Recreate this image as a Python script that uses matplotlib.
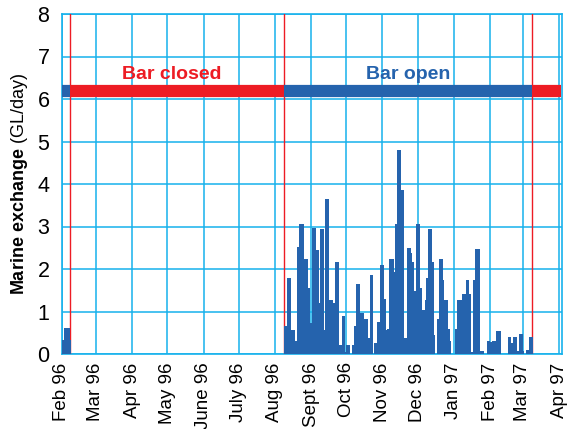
import datetime as dt
import matplotlib
matplotlib.use("Agg")
import matplotlib.pyplot as plt
import matplotlib.dates as mdates
from matplotlib import font_manager

# ---------------- data ----------------
feb_start = dt.date(1996, 2, 1)
feb_values = [0.33, 0.33, 0.61, 0.61, 0.61, 0.61, 0.61, 0.33]

open_start = dt.date(1996, 8, 9)
open_values = [
    0.66, 0.66, 1.79, 1.79, 1.79, 1.79, 0.57, 0.57, 0.57, 0.31,
    0.31, 2.52, 2.52, 3.05, 3.05, 3.05, 3.05, 2.24, 2.24, 2.24,
    1.55, 1.55, 0.72, 0.72, 2.96, 2.96, 2.96, 2.45, 2.45, 2.45,
    1.20, 2.95, 2.95, 2.95, 0.57, 3.64, 3.64, 3.64, 1.27, 1.27,
    1.27, 1.27, 1.20, 2.16, 2.16, 2.16, 2.16, 0.22, 0.22, 0.90,
    0.90, 0.90, 0.05, 0.22, 0.22, 0.22, 0.00, 0.00, 0.22, 0.22,
    0.66, 1.65, 1.65, 1.65, 1.65, 0.97, 0.97, 0.97, 0.83, 0.83,
    0.83, 0.83, 0.38, 1.86, 1.86, 1.86, 0.00, 0.27, 0.27, 0.76,
    0.76, 0.76, 2.09, 2.09, 2.09, 1.30, 1.30, 0.57, 0.59, 0.59,
    2.23, 2.23, 2.23, 2.23, 1.93, 3.05, 4.81, 4.81, 4.81, 4.81,
    3.85, 3.85, 0.38, 0.38, 0.38, 2.49, 2.49, 2.49, 2.38, 2.16,
    2.16, 1.48, 1.48, 3.05, 3.05, 3.05, 1.55, 1.55, 1.04, 1.04,
    1.27, 1.79, 1.79, 2.94, 2.94, 2.94, 2.16, 2.16, 0.45, 0.00,
    0.00, 0.82, 2.23, 2.23, 2.23, 2.23, 1.74, 1.27, 1.27, 1.27,
    0.59, 0.59, 0.31, 0.00, 0.00, 0.00, 0.59, 0.59, 1.27, 1.27,
    1.27, 1.27, 1.41, 1.41, 1.41, 1.74, 1.74, 1.74, 1.41, 1.41,
    0.05, 1.74, 1.74, 2.48, 2.48, 2.48, 2.48, 0.08, 0.08, 0.08,
    0.08, 0.00, 0.00, 0.31, 0.31, 0.31, 0.29, 0.29, 0.31, 0.31,
    0.31, 0.53, 0.53, 0.53, 0.53, 0.00, 0.00, 0.00, 0.00, 0.00,
    0.00, 0.41, 0.41, 0.41, 0.27, 0.27, 0.41, 0.41, 0.41, 0.08,
    0.08, 0.46, 0.46, 0.46, 0.08, 0.00, 0.00, 0.10, 0.10, 0.41,
    0.41, 0.41, 0.41,
]

# bar state periods (start, end, state)
period_starts = [dt.date(1996, 2, 1), dt.date(1996, 2, 8), dt.date(1996, 8, 9), dt.date(1997, 3, 9)]
period_ends = [dt.date(1996, 2, 8), dt.date(1996, 8, 9), dt.date(1997, 3, 9), dt.date(1997, 4, 3)]
period_state = ["open", "closed", "open", "closed"]
state_change_dates = [dt.date(1996, 2, 8), dt.date(1996, 8, 9), dt.date(1997, 3, 9)]

month_ticks = [dt.date(1996, m, 1) for m in range(2, 13)] + [dt.date(1997, m, 1) for m in range(1, 5)]
month_labels = ["Feb 96", "Mar 96", "Apr 96", "May 96", "June 96", "July 96", "Aug 96",
                "Sept 96", "Oct 96", "Nov 96", "Dec 96", "Jan 97", "Feb 97", "Mar 97", "Apr 97"]

# ---------------- style ----------------
BLUE = "#2563ad"
RED = "#ed1c24"
GRID = "#16b2ec"

installed = {f.name for f in font_manager.fontManager.ttflist}
base_font = "Liberation Sans" if "Liberation Sans" in installed else "DejaVu Sans"

plt.rcParams["font.family"] = [base_font, "DejaVu Sans"]
plt.rcParams["mathtext.fontset"] = "custom"
plt.rcParams["mathtext.rm"] = base_font
plt.rcParams["mathtext.bf"] = base_font + ":bold"

fig = plt.figure(figsize=(5.73, 4.29), dpi=100)
ax = fig.add_axes([62 / 573, 1 - 354 / 429, 500 / 573, 340 / 429])

d2n = mdates.date2num

# bars
feb_x = [d2n(feb_start) + i for i in range(len(feb_values))]
open_x = [d2n(open_start) + i for i in range(len(open_values))]
ax.bar(feb_x, feb_values, width=1.0, align="edge", color=BLUE, linewidth=0, zorder=4)
ax.bar(open_x, open_values, width=1.0, align="edge", color=BLUE, linewidth=0, zorder=4)

# red vertical lines at state changes
for d in state_change_dates:
    ax.axvline(d2n(d), color=RED, lw=1.0, zorder=3)

# state band
for s, e, st in zip(period_starts, period_ends, period_state):
    ax.plot([d2n(s), d2n(e)], [6.19, 6.19], color=BLUE if st == "open" else RED,
            lw=8.8, solid_capstyle="butt", zorder=5)

ax.text(d2n(dt.date(1996, 5, 5)), 6.47, "Bar closed", color=RED, fontsize=14,
        fontweight="bold", ha="center", va="baseline", zorder=6)
ax.text(d2n(dt.date(1996, 12, 1)) - 8, 6.47, "Bar open", color=BLUE, fontsize=14,
        fontweight="bold", ha="center", va="baseline", zorder=6)

ax.set_xlim(d2n(dt.date(1996, 2, 1)), d2n(dt.date(1997, 4, 3)) + 0.5)
ax.set_ylim(0, 8)
ax.set_xticks([d2n(d) for d in month_ticks])
ax.set_xticklabels(month_labels, rotation=90, fontsize=13.5)
ax.set_yticks(range(0, 9))
ax.set_yticklabels([str(v) for v in range(0, 9)], fontsize=15.5)
ax.tick_params(axis="both", length=0)
ax.tick_params(axis="x", pad=6)
ax.tick_params(axis="y", pad=9)

ax.grid(True, color=GRID, lw=1.1, zorder=1)
ax.set_axisbelow(True)
for sp in ax.spines.values():
    sp.set_color(GRID)
    sp.set_linewidth(1.2)

ax.set_ylabel(r"$\mathbf{Marine\ exchange}$ (GL/day)", fontsize=13, labelpad=5)

fig.savefig("out.png", dpi=100)
